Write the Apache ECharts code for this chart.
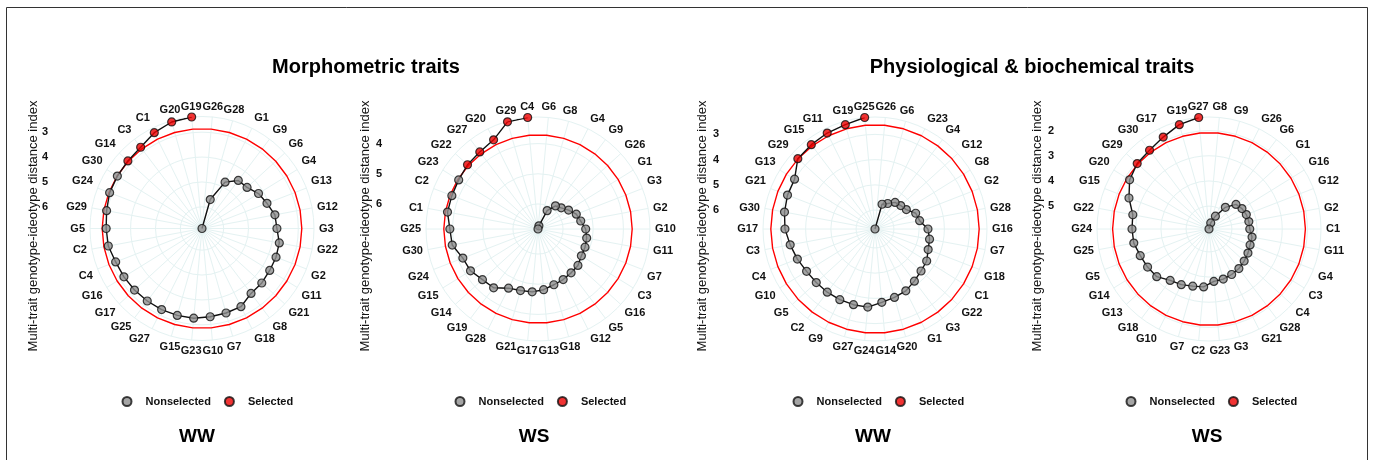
<!DOCTYPE html>
<html>
<head>
<meta charset="utf-8">
<script src="https://cdn.jsdelivr.net/npm/echarts@6/dist/echarts.min.js"></script>
<style>
  html, body { margin: 0; padding: 0; background: #fff; }
  #chart { width: 1373px; height: 460px; }
</style>
</head>
<body>
<div id="chart"></div>
<script>
// ---- Data (genotype order counter-clockwise from top; MGIDI values) ----
const cats1 = ['G19','G20','C1','C3','G14','G30','G24','G29','G5','C2','C4','G16','G17','G25','G27','G15','G23','G10','G7','G18','G8','G21','G11','G2','G22','G3','G12','G13','G4','G6','G9','G1','G28','G26'];
const vals1 = [2.37,2.42,2.57,2.78,2.84,2.87,2.89,2.97,3.02,3.04,3.15,3.18,3.20,3.22,3.23,3.24,3.25,3.31,3.34,3.36,3.60,3.62,3.67,3.68,3.71,3.86,3.89,4.07,4.20,4.42,4.45,4.79,5.66,6.87];
const sel1 = ['G19','G20','C1','C3','G14'];
const thr1 = 2.86;

const cats2 = ['C4','G29','G20','G27','G22','G23','C2','C1','G25','G30','G24','G15','G14','G19','G28','G21','G17','G13','G18','G12','G5','G16','C3','G7','G11','G10','G2','G3','G1','G26','G9','G4','G8','G6'];
const vals2 = [3.12,3.14,3.53,3.63,3.67,3.74,3.77,3.78,3.91,3.94,4.16,4.20,4.34,4.39,4.64,4.71,4.74,4.81,4.91,4.96,5.01,5.04,5.14,5.16,5.19,5.25,5.39,5.47,5.64,5.79,5.87,6.15,6.72,6.83];
const sel2 = ['C4','G29','G20','G27','G22'];
const thr2 = 3.71;

const cats3 = ['G25','G19','G11','G15','G29','G13','G21','G30','G17','C3','C4','G10','G5','C2','G9','G27','G24','G14','G20','G1','G3','G22','C1','G18','G7','G16','G28','G2','G8','G12','G4','G23','G6','G26'];
const vals3 = [2.31,2.45,2.50,2.56,2.61,3.00,3.03,3.10,3.18,3.33,3.45,3.56,3.60,3.61,3.62,3.63,3.64,3.83,3.93,4.01,4.16,4.28,4.34,4.49,4.55,4.65,4.95,5.02,5.29,5.37,5.43,5.62,5.73,6.75];
const sel3 = ['G25','G19','G11','G15','G29'];
const thr3 = 2.62;

const cats4 = ['G27','G19','G17','G30','G29','G20','G15','G22','G24','G25','G5','G14','G13','G18','G10','G7','C2','G23','G3','G21','G28','C4','C3','G4','G11','C1','G2','G12','G16','G1','G6','G26','G9','G8'];
const vals4 = [1.46,1.60,1.83,1.99,2.05,2.20,2.50,2.83,2.85,2.87,2.98,3.04,3.10,3.35,3.44,3.55,3.60,3.82,3.84,3.89,3.94,4.02,4.09,4.16,4.17,4.29,4.30,4.32,4.37,4.46,4.83,5.34,5.66,5.91];
const sel4 = ['G27','G19','G17','G30','G29'];
const thr4 = 2.08;

const groupTitles = ['Morphometric traits', 'Physiological & biochemical traits'];
const panelLabels = ['WW', 'WS', 'WW', 'WS'];
const legendNames = ['Nonselected', 'Selected'];
const yName = 'Multi-trait genotype-ideotype distance index';

// ---- Layout ----
const FONT = 'Liberation Sans, Arial, sans-serif';
const R = 112;
const panels = [
  { cats: cats1, vals: vals1, sel: sel1, thr: thr1, cx: 202, cy: 228.5, tickX: 52, nameX: 33, legX: 121.5, labX: 197 },
  { cats: cats2, vals: vals2, sel: sel2, thr: thr2, cx: 538, cy: 229, tickX: 386, nameX: 365, legX: 454.5, labX: 534 },
  { cats: cats3, vals: vals3, sel: sel3, thr: thr3, cx: 875, cy: 229, tickX: 723, nameX: 702, legX: 792.5, labX: 873 },
  { cats: cats4, vals: vals4, sel: sel4, thr: thr4, cx: 1209, cy: 229, tickX: 1058, nameX: 1037, legX: 1125.5, labX: 1207 }
];
const gridColor = '#e4f2f2';

const option = {
  backgroundColor: '#fff',
  animation: false,
  polar: [], angleAxis: [], radiusAxis: [],
  grid: [], xAxis: [], yAxis: [],
  legend: [], series: [],
  graphic: [
    { type: 'rect', shape: { x: 6.5, y: 7.5, width: 1361, height: 470 }, style: { fill: 'none', stroke: '#333', lineWidth: 1 }, z: 0 },
    { type: 'text', x: 366, y: 67, style: { text: groupTitles[0], font: 'bold 20px ' + FONT, fill: '#000', align: 'center', verticalAlign: 'middle' } },
    { type: 'text', x: 1032, y: 67, style: { text: groupTitles[1], font: 'bold 20px ' + FONT, fill: '#000', align: 'center', verticalAlign: 'middle' } }
  ]
};

panels.forEach((p, i) => {
  const mn = Math.min(...p.vals), mx = Math.max(...p.vals);
  option.polar.push({ center: [p.cx, p.cy], radius: R });
  option.angleAxis.push({
    polarIndex: i, type: 'category', data: p.cats, startAngle: 90, clockwise: false, boundaryGap: true,
    axisLine: { show: false }, axisTick: { show: false, alignWithLabel: true },
    axisLabel: { interval: 0, margin: 5, fontSize: 11, fontWeight: 'bold', color: '#111', fontFamily: FONT },
    splitLine: { show: true, lineStyle: { color: gridColor, width: 1 } }
  });
  option.radiusAxis.push({
    polarIndex: i, type: 'value', inverse: true, min: mn, max: mx, splitNumber: 5,
    axisLine: { show: false }, axisTick: { show: false }, axisLabel: { show: false },
    splitLine: { show: true, lineStyle: { color: gridColor, width: 1 } }
  });
  // left-side radial scale labels
  option.grid.push({ left: p.tickX, top: p.cy - R, width: 10, height: R, containLabel: false });
  option.xAxis.push({ gridIndex: i, type: 'value', show: false, min: 0, max: 1 });
  option.yAxis.push({
    gridIndex: i, type: 'value', inverse: true, min: mn, max: mx, splitNumber: 5,
    axisLine: { show: false }, axisTick: { show: false }, splitLine: { show: false },
    axisLabel: { showMinLabel: false, showMaxLabel: false, margin: 4, fontSize: 11, fontWeight: 'bold', color: '#111', fontFamily: FONT }
  });
  option.legend.push({
    data: legendNames, left: p.legX, top: 396, padding: 0, orient: 'horizontal', selectedMode: false,
    icon: 'circle', itemWidth: 9, itemHeight: 9, itemGap: 13,
    textStyle: { fontSize: 11, fontWeight: 'bold', color: '#111', fontFamily: FONT, padding: [0, 0, 0, 9] }
  });
  option.graphic.push({ type: 'text', x: p.nameX, y: 226, rotation: Math.PI / 2,
    style: { text: yName, font: '13px ' + FONT, fill: '#111', align: 'center', verticalAlign: 'middle' } });
  option.graphic.push({ type: 'text', x: p.labX, y: 437,
    style: { text: panelLabels[i], font: 'bold 19px ' + FONT, fill: '#000', align: 'center', verticalAlign: 'middle' } });

  // threshold circle (constant cut-off)
  const thrData = p.cats.map((c, k) => [p.thr, k]);
  thrData.push([p.thr, 0]);
  option.series.push({ type: 'line', coordinateSystem: 'polar', polarIndex: i, name: 'cut', data: thrData,
    symbol: 'none', silent: true, lineStyle: { color: '#ff0000', width: 1.4 }, z: 2 });
  // connecting path
  option.series.push({ type: 'line', coordinateSystem: 'polar', polarIndex: i, name: 'path',
    data: p.vals.map((v, k) => [v, k]), symbol: 'none', silent: true,
    lineStyle: { color: '#111', width: 1.4 }, z: 3 });
  const non = [], sel = [];
  p.cats.forEach((c, k) => { (p.sel.includes(c) ? sel : non).push([p.vals[k], k]); });
  option.series.push({ type: 'scatter', coordinateSystem: 'polar', polarIndex: i, name: 'Nonselected',
    data: non, symbol: 'circle', symbolSize: 8,
    itemStyle: { color: '#8e8e8e', borderColor: '#111', borderWidth: 1.2 }, z: 4 });
  option.series.push({ type: 'scatter', coordinateSystem: 'polar', polarIndex: i, name: 'Selected',
    data: sel, symbol: 'circle', symbolSize: 8,
    itemStyle: { color: '#ee0000', borderColor: '#111', borderWidth: 1.2 }, z: 4 });
});

const chart = echarts.init(document.getElementById('chart'), null, { renderer: 'canvas' });
chart.setOption(option);
</script>
</body>
</html>
